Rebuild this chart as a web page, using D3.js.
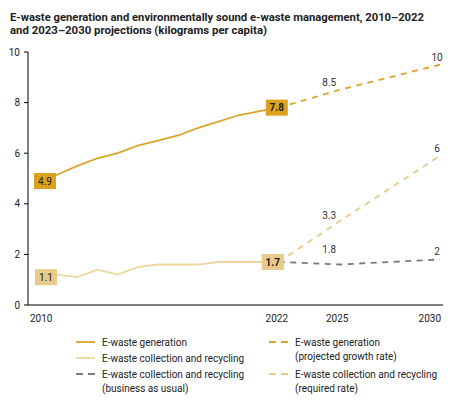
<!DOCTYPE html>
<html>
<head>
<meta charset="utf-8">
<script src="https://cdn.jsdelivr.net/npm/d3@7"></script>
<style>
  body { margin: 0; background: #fff; }
  svg { display: block; font-family: Roboto, "Noto Sans", sans-serif; }
</style>
</head>
<body>
<div class="container"></div>
<script>
// historical series 2010-2022 (kg per capita)
var histYears = [2010, 2011, 2012, 2013, 2014, 2015, 2016, 2017, 2018, 2019, 2020, 2021, 2022];
var genValues = [4.9, 5.15, 5.5, 5.8, 6.0, 6.3, 6.5, 6.7, 7.0, 7.25, 7.5, 7.65, 7.8];
var colValues = [1.1, 1.2, 1.1, 1.4, 1.2, 1.5, 1.6, 1.6, 1.6, 1.7, 1.7, 1.7, 1.7];

// projections 2022-2030
var projYears = [2022, 2025, 2030];
var genProj = [7.8, 8.5, 9.5];
var genProjLabels = ['', '8.5', '10'];
var reqProj = [1.7, 3.3, 5.9];
var reqProjLabels = ['', '3.3', '6'];
var bauProj = [1.7, 1.6, 1.8];
var bauProjLabels = ['', '1.8', '2'];

var yTicks = [0, 2, 4, 6, 8, 10];
var xTicks = [2010, 2022, 2025, 2030];

var title = [
    'E-waste generation and environmentally sound e-waste management, 2010\u20132022',
    'and 2023\u20132030 projections (kilograms per capita)'
];

var GOLD = '#dca42c', GOLD_BOX = '#dba11f';
var LIGHT = '#eed59e', LIGHT_BOX = '#e8ca8b';
var GREY = '#7a7a7a';
var DASH = '6,5.5';

var loadChart = function () {
    const WIDTH = 462, HEIGHT = 401;
    var svg = d3.select('.container').append('svg')
        .attr('width', WIDTH).attr('height', HEIGHT);

    var xScale = d3.scaleLinear().domain([2010, 2030]).range([37, 440]);
    var yScale = d3.scaleLinear().domain([0, 10]).range([305, 52]);

    // title
    svg.selectAll('.title').data(title).enter().append('text')
        .attr('x', 10).attr('y', function (d, i) { return 21 + i * 13; })
        .attr('textLength', function (d, i) { return i === 0 ? 414 : 257; })
        .attr('lengthAdjust', 'spacingAndGlyphs')
        .style('font-size', '11px').style('font-weight', 'bold').style('fill', '#222')
        .text(function (d) { return d; });

    // axes
    svg.append('line').attr('x1', 28).attr('x2', 28)
        .attr('y1', yScale(10)).attr('y2', yScale(0)).attr('stroke', '#000');
    svg.append('line').attr('x1', 28).attr('x2', 443)
        .attr('y1', yScale(0)).attr('y2', yScale(0)).attr('stroke', '#000');
    var yt = svg.selectAll('.ytick').data(yTicks).enter().append('g');
    yt.append('line').attr('x1', 24).attr('x2', 28)
        .attr('y1', function (d) { return yScale(d); })
        .attr('y2', function (d) { return yScale(d); })
        .attr('stroke', '#000');
    yt.append('text').attr('x', 20).attr('y', function (d) { return yScale(d) + 3.5; })
        .attr('text-anchor', 'end').style('font-size', '10px').style('fill', '#222')
        .text(function (d) { return d; });

    svg.selectAll('.xtick').data(xTicks).enter().append('text')
        .attr('x', function (d, i) {
            if (i === 0) return xScale(d) - 7;
            if (i === xTicks.length - 1) return xScale(d) + 1;
            return xScale(d) - 2;
        })
        .attr('y', 322)
        .attr('text-anchor', function (d, i) {
            return i === 0 ? 'start' : (i === xTicks.length - 1 ? 'end' : 'middle');
        })
        .style('font-size', '10px').style('fill', '#222')
        .text(function (d) { return d; });

    var line = d3.line()
        .x(function (d) { return xScale(d[0]); })
        .y(function (d) { return yScale(d[1]); });

    var addPath = function (years, values, color, dash) {
        svg.append('path').datum(d3.zip(years, values))
            .attr('d', line).attr('fill', 'none')
            .attr('stroke', color).attr('stroke-width', 1.8)
            .attr('stroke-dasharray', dash || null);
    };

    addPath(projYears, bauProj, GREY, DASH);
    addPath(projYears, reqProj, LIGHT_BOX, DASH);
    addPath(projYears, genProj, GOLD, DASH);
    addPath(histYears, colValues, LIGHT);
    addPath(histYears, genValues, GOLD);

    // projection value labels
    var addLabels = function (values, labels, dy2025) {
        svg.selectAll(null).data(projYears).enter()
            .filter(function (d, i) { return labels[i] !== ''; })
            .append('text')
            .attr('x', function (d) { return d === 2030 ? xScale(d) - 3 : xScale(d) - 10; })
            .attr('y', function (d) {
                var i = projYears.indexOf(d);
                return yScale(values[i]) - (d === 2030 ? 4 : dy2025);
            })
            .attr('text-anchor', 'middle').style('font-size', '10px').style('fill', '#333')
            .text(function (d) { return labels[projYears.indexOf(d)]; });
    };
    addLabels(genProj, genProjLabels, 4);
    addLabels(reqProj, reqProjLabels, 3);
    addLabels(bauProj, bauProjLabels, 12);

    // value boxes at 2010 and 2022
    var boxes = [
        { year: 2010, value: genValues[0], fill: GOLD_BOX, bold: false, dx: 8 },
        { year: 2010, value: colValues[0], fill: LIGHT_BOX, bold: false, dx: 9 },
        { year: 2022, value: genValues[genValues.length - 1], fill: GOLD_BOX, bold: true, dx: -2 },
        { year: 2022, value: colValues[colValues.length - 1], fill: LIGHT_BOX, bold: true, dx: -6 }
    ];
    var bx = svg.selectAll('.box').data(boxes).enter().append('g')
        .attr('transform', function (d) {
            return 'translate(' + (xScale(d.year) + d.dx) + ',' + yScale(d.value) + ')';
        });
    bx.append('rect').attr('x', -11).attr('y', -8).attr('width', 22).attr('height', 16)
        .attr('fill', function (d) { return d.fill; });
    bx.append('text').attr('y', 3.6).attr('text-anchor', 'middle')
        .style('font-size', '10px').style('fill', '#1a1a1a')
        .style('font-weight', function (d) { return d.bold ? 'bold' : 'normal'; })
        .text(function (d) { return d3.format('.1f')(d.value); });

    // legend
    var legend = [
        { x: 76, y: 342, color: GOLD, dash: null, lines: ['E-waste generation'] },
        { x: 76, y: 358, color: LIGHT, dash: null, lines: ['E-waste collection and recycling'] },
        { x: 76, y: 374, color: GREY, dash: '7,5', lines: ['E-waste collection and recycling', '(business as usual)'] },
        { x: 269, y: 342, color: GOLD, dash: '7,5', lines: ['E-waste generation', '(projected growth rate)'] },
        { x: 269, y: 374, color: LIGHT_BOX, dash: '7,5', lines: ['E-waste collection and recycling', '(required rate)'] }
    ];
    var lg = svg.selectAll('.legend').data(legend).enter().append('g')
        .attr('transform', function (d) { return 'translate(' + d.x + ',' + d.y + ')'; });
    lg.append('line').attr('x1', 0).attr('x2', 19)
        .attr('stroke', function (d) { return d.color; }).attr('stroke-width', 1.8)
        .attr('stroke-dasharray', function (d) { return d.dash; });
    lg.each(function (d) {
        d3.select(this).selectAll('text').data(d.lines).enter().append('text')
            .attr('x', 26).attr('y', function (t, i) { return 3.5 + i * 14; })
            .style('font-size', '10px').style('fill', '#222')
            .text(function (t) { return t; });
    });
};

window.onload = loadChart;
</script>
</body>
</html>
